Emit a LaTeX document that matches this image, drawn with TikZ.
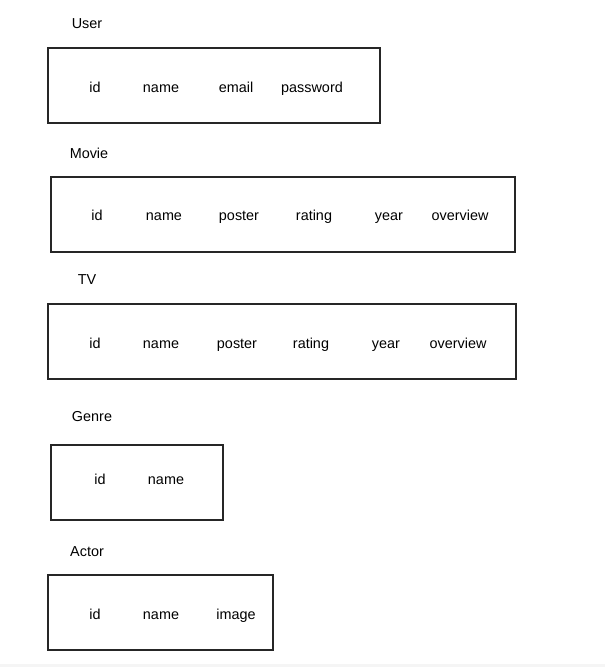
\documentclass[tikz,border=0pt]{standalone}
\usepackage{fontspec}
\setmainfont{Liberation Sans}
\begin{document}
\begin{tikzpicture}[x=0.75pt,y=-0.75pt,
  tbl/.style={draw=black!85,line width=0.8pt},
  lbl/.style={font=\fontsize{10.8}{12}\selectfont,anchor=center,inner sep=0pt,text height=7.6pt,text depth=2.2pt,yshift=-1.5pt}]
\useasboundingbox (0,0) rectangle (605,667);
\fill[black!4] (0,664) rectangle (605,667);
% User
\node[lbl] (tuser) at (87,23) {User};
\draw[tbl] (48,48) rectangle (380,123);
\node[lbl] (u1) at (95,87) {id};
\node[lbl] (u2) at (161,87) {name};
\node[lbl] (u3) at (236,87) {email};
\node[lbl] (u4) at (312,87) {password};
% Movie
\node[lbl] (tmovie) at (89,153) {Movie};
\draw[tbl] (51,177) rectangle (515,252);
\node[lbl] (m1) at (97,215) {id};
\node[lbl] (m2) at (164,215) {name};
\node[lbl] (m3) at (239,215) {poster};
\node[lbl] (m4) at (314,215) {rating};
\node[lbl] (m5) at (389,215) {year};
\node[lbl] (m6) at (460,215) {overview};
% TV
\node[lbl] (ttv) at (87,279) {TV};
\draw[tbl] (48,304) rectangle (516,379);
\node[lbl] (v1) at (95,343) {id};
\node[lbl] (v2) at (161,343) {name};
\node[lbl] (v3) at (237,343) {poster};
\node[lbl] (v4) at (311,343) {rating};
\node[lbl] (v5) at (386,343) {year};
\node[lbl] (v6) at (458,343) {overview};
% Genre
\node[lbl] (tgenre) at (92,416) {Genre};
\draw[tbl] (51,445) rectangle (223,520);
\node[lbl] (g1) at (100,479) {id};
\node[lbl] (g2) at (166,479) {name};
% Actor
\node[lbl] (tactor) at (87,551) {Actor};
\draw[tbl] (48,575) rectangle (273,650);
\node[lbl] (a1) at (95,614) {id};
\node[lbl] (a2) at (161,614) {name};
\node[lbl] (a3) at (236,614) {image};
\end{tikzpicture}
\end{document}
